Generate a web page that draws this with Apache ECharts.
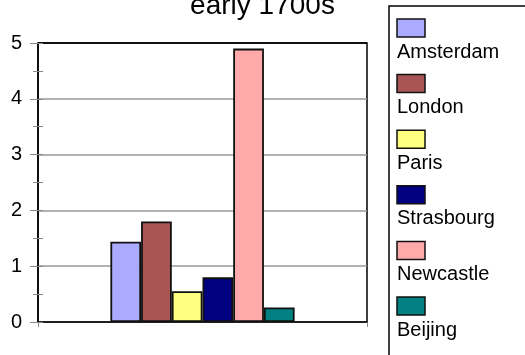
<!DOCTYPE html>
<html>
<head>
<meta charset="utf-8">
<script src="https://cdn.jsdelivr.net/npm/echarts@6/dist/echarts.min.js"></script>
<style>
  html, body { margin: 0; padding: 0; background: #fff; }
  #chart { width: 525px; height: 355px; }
</style>
</head>
<body>
<div id="chart"></div>
<script>
// cities and their values
const cities = ['Amsterdam', 'London', 'Paris', 'Strasbourg', 'Newcastle', 'Beijing'];
const values = [1.44, 1.8, 0.55, 0.8, 4.9, 0.26];
const colors = ['#aaaaff', '#aa5555', '#ffff80', '#000080', '#ffaaaa', '#008080'];
const yTicks = [0, 1, 2, 3, 4, 5];

const FONT = 'Liberation Sans, Arial, sans-serif';

let chartDom = document.getElementById('chart');
let myChart = echarts.init(chartDom);

let series = cities.map((name, i) => ({
  name: name,
  type: 'bar',
  data: [values[i]],
  barGap: '0%',
  barCategoryGap: '44%',
  itemStyle: { color: colors[i], borderColor: '#111', borderWidth: 1.8 },
  animation: false,
}));

// legend drawn as a box with the swatch above each name
let legendItems = [];
cities.forEach((name, i) => {
  let y0 = 19 + i * 55.6;
  legendItems.push({
    type: 'rect',
    shape: { x: 397, y: y0, width: 28, height: 18 },
    style: { fill: colors[i], stroke: '#111', lineWidth: 1.5 },
  });
  legendItems.push({
    type: 'text',
    x: 397,
    y: y0 + 23,
    style: { text: name, fill: '#000', font: '20px ' + FONT, textVerticalAlign: 'top' },
  });
});

let option = {
  animation: false,
  title: {
    text: 'early 1700s',
    left: 'center',
    top: -13,
    textStyle: { fontFamily: FONT, fontWeight: 'normal', fontSize: 28, color: '#000' },
  },
  grid: {
    left: 38, right: 158, top: 43, bottom: 33,
    show: true, borderColor: '#000', borderWidth: 1.5,
  },
  xAxis: {
    type: 'category',
    data: [''],
    axisLine: { lineStyle: { color: '#000', width: 1.5 } },
    axisTick: { show: true, length: 5, lineStyle: { color: '#888' } },
    axisLabel: { show: false },
  },
  yAxis: [
    {
      type: 'value',
      min: 0, max: 5, interval: 1,
      axisLine: { show: true, lineStyle: { color: '#000', width: 1.5 } },
      axisTick: { show: true, length: 8, lineStyle: { color: '#888' } },
      minorTick: { show: true, splitNumber: 2, length: 5, lineStyle: { color: '#888' } },
      axisLabel: {
        color: '#000', fontSize: 20, fontFamily: FONT, margin: 16,
        formatter: (v) => (yTicks.includes(v) ? String(v) : ''),
      },
      // top line stays black like the plot frame
      splitLine: { lineStyle: { color: ['#999', '#999', '#999', '#999', '#999', '#000'], width: 1.5 } },
    },
    {
      type: 'value',
      min: 0, max: 5, interval: 0.5,
      position: 'left',
      axisLine: { show: false },
      axisTick: { show: true, inside: true, length: 5, lineStyle: { color: '#888' } },
      axisLabel: { show: false },
      splitLine: { show: false },
    },
  ],
  series: series,
  graphic: [
    {
      type: 'rect',
      shape: { x: 389, y: 6, width: 160, height: 370 },
      style: { fill: '#fff', stroke: '#000', lineWidth: 1.5 },
    },
    ...legendItems,
  ],
};

myChart.setOption(option);
</script>
</body>
</html>
